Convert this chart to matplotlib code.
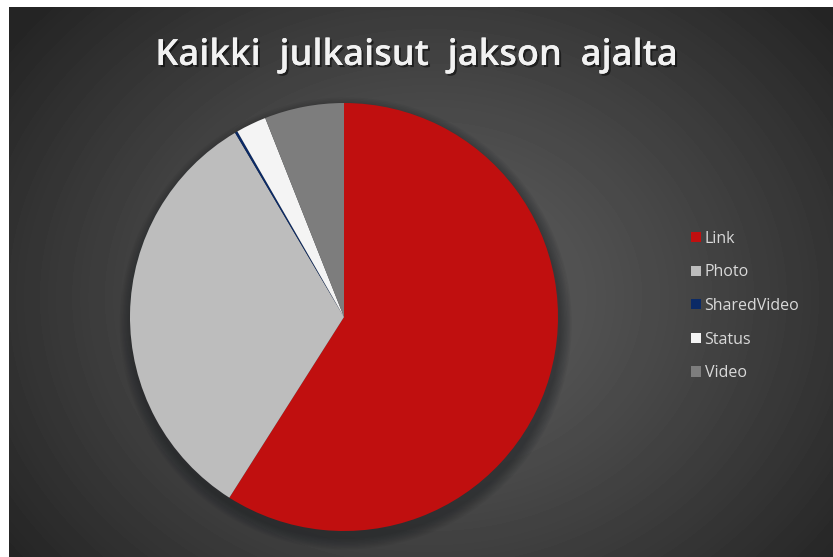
import numpy as np
import matplotlib
matplotlib.use("Agg")
import matplotlib.pyplot as plt
from matplotlib.patches import Circle
import matplotlib.patheffects as pe

# data (shares of posts)
labels = ["Link", "Photo", "SharedVideo", "Status", "Video"]
shares = [59.0, 32.5, 0.2, 2.3, 6.0]
colors = ["#c00f0f", "#bdbdbd", "#0b2a66", "#f4f4f4", "#7d7d7d"]
title = "Kaikki  julkaisut  jakson  ajalta"

W, H = 833, 557
fig = plt.figure(figsize=(W / 100, H / 100), dpi=100)
fig.patch.set_facecolor("white")

# dark panel with a radial gradient
bg = fig.add_axes([9 / W, 0, (W - 9) / W, (H - 7) / H])
bg.set_axis_off()
yy, xx = np.mgrid[0:550, 0:824]
d = np.hypot((xx - 420) / 520.0, (yy - 290) / 430.0)
d = np.clip(d, 0, 1)
lum = 0.37 - (0.37 - 0.145) * d ** 1.2
bg.imshow(lum, cmap="gray", vmin=0, vmax=1, aspect="auto",
          interpolation="bilinear")

# pie axes (a bit larger than the pie so the shadow is not clipped)
cx, cy, r = 344, 317, 214
m = 1.12
R = r * m
ax = fig.add_axes([(cx - R) / W, (H - cy - R) / H, 2 * R / W, 2 * R / H])
ax.set_axis_off()

# soft shadow under the pie
for k in range(8):
    ax.add_patch(Circle((0.008, -0.03), 1.0 + 0.007 * (8 - k),
                        color="#101418", alpha=0.055, lw=0, zorder=0))

wedges, _ = ax.pie(shares, colors=colors, startangle=90, counterclock=False,
                   radius=1, wedgeprops=dict(linewidth=0))
for w in wedges:
    w.set_zorder(2)
ax.set_xlim(-m, m)
ax.set_ylim(-m, m)
ax.set_aspect("equal")

fig.text(417 / W, 1 - 56 / H, title, ha="center", va="center",
         fontsize=26, fontweight="semibold", color="#f2f2f2",
         family=["Open Sans", "DejaVu Sans"],
         path_effects=[pe.withSimplePatchShadow(offset=(1.5, -1.5),
                                                shadow_rgbFace="black",
                                                alpha=0.5), pe.Normal()])

leg = fig.legend(wedges, labels, loc="center left",
                 bbox_to_anchor=(691 / W, 1 - 306 / H),
                 frameon=False, labelspacing=1.1,
                 handlelength=0.6, handleheight=0.6, handletextpad=0.25,
                 borderpad=0, borderaxespad=0,
                 prop=dict(family=["Open Sans", "DejaVu Sans"], size=11.5))
for t in leg.get_texts():
    t.set_color("#d9d9d9")

fig.savefig("out.png", dpi=100, facecolor=fig.get_facecolor())
